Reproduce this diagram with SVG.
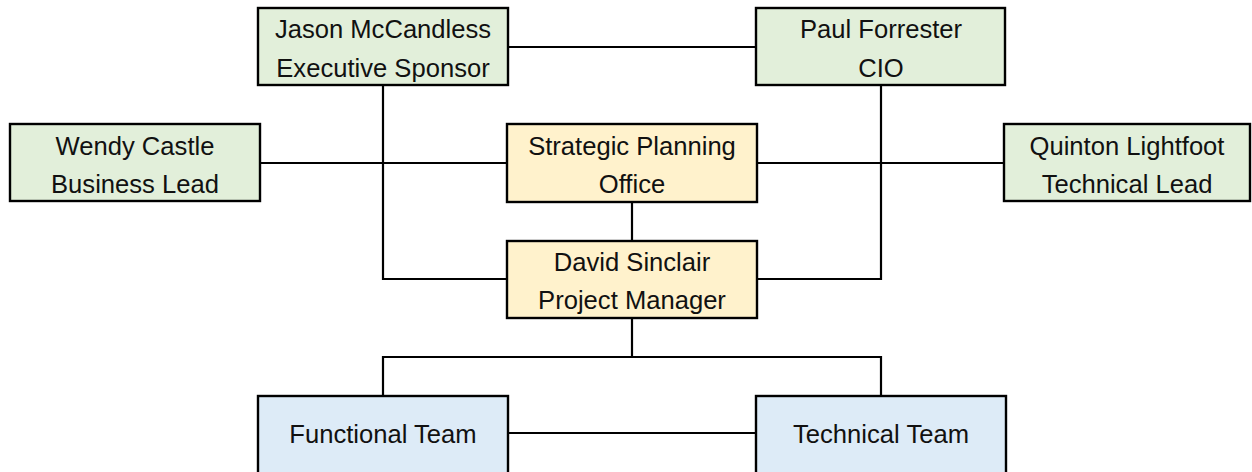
<svg xmlns="http://www.w3.org/2000/svg" width="1252" height="472" viewBox="0 0 1252 472">
  <style>
    .box { stroke: #000; stroke-width: 2.4; }
    .green { fill: #e2efda; }
    .yellow { fill: #fff2cc; }
    .blue { fill: #ddebf7; }
    .lbl { font-family: "Liberation Sans", Arial, sans-serif; font-size: 25.6px; fill: #111; text-anchor: middle; }
    .link { fill: none; stroke: #000; stroke-width: 2.2; }
  </style>
  <rect width="1252" height="472" fill="#fff"/>

  <!-- connectors -->
  <g id="connectors">
    <path class="link" d="M508 47 H756"/>
    <path class="link" d="M383 85 V279 H507"/>
    <path class="link" d="M881 85 V279 H757"/>
    <path class="link" d="M260 163 H507"/>
    <path class="link" d="M757 163 H1004"/>
    <path class="link" d="M632 202 V241"/>
    <path class="link" d="M632 318 V357"/>
    <path class="link" d="M383 396 V357 H881 V396"/>
    <path class="link" d="M508 433 H756"/>
  </g>

  <g id="jason">
    <rect class="box green" x="258" y="8" width="250" height="77"/>
    <text class="lbl" x="383" y="38">Jason McCandless</text>
    <text class="lbl" x="383" y="77">Executive Sponsor</text>
  </g>
  <g id="paul">
    <rect class="box green" x="756" y="8" width="249" height="77"/>
    <text class="lbl" x="881" y="38">Paul Forrester</text>
    <text class="lbl" x="881" y="77">CIO</text>
  </g>
  <g id="wendy">
    <rect class="box green" x="10" y="124" width="250" height="77"/>
    <text class="lbl" x="135" y="155">Wendy Castle</text>
    <text class="lbl" x="135" y="193">Business Lead</text>
  </g>
  <g id="strategic">
    <rect class="box yellow" x="507" y="124" width="250" height="78"/>
    <text class="lbl" x="632" y="155">Strategic Planning</text>
    <text class="lbl" x="632" y="193">Office</text>
  </g>
  <g id="quinton">
    <rect class="box green" x="1004" y="124" width="246" height="77"/>
    <text class="lbl" x="1127" y="155">Quinton Lightfoot</text>
    <text class="lbl" x="1127" y="193">Technical Lead</text>
  </g>
  <g id="david">
    <rect class="box yellow" x="507" y="241" width="250" height="77"/>
    <text class="lbl" x="632" y="271">David Sinclair</text>
    <text class="lbl" x="632" y="309">Project Manager</text>
  </g>
  <g id="functional">
    <rect class="box blue" x="258" y="396" width="250" height="90"/>
    <text class="lbl" x="383" y="443">Functional Team</text>
  </g>
  <g id="technical">
    <rect class="box blue" x="756" y="396" width="250" height="90"/>
    <text class="lbl" x="881" y="443">Technical Team</text>
  </g>
</svg>
